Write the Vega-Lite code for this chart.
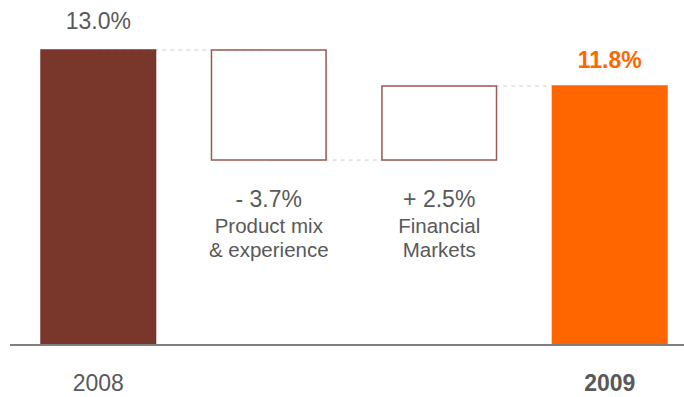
{
  "$schema": "https://vega.github.io/schema/vega-lite/v6.json",
  "width": 674,
  "height": 345,
  "autosize": {"type": "none"},
  "padding": {"left": 10, "top": 0, "right": 0, "bottom": 52},
  "background": "white",
  "config": {"view": {"stroke": null}, "font": "Liberation Sans"},
  "datasets": {
    "bars": [
      {"cat": "2008", "start": 0, "end": 13.0, "value": "13.0%", "desc": ""},
      {"cat": "Product mix", "start": 8.15, "end": 13.0, "value": "- 3.7%", "desc": "Product mix\n& experience"},
      {"cat": "Financial Markets", "start": 8.15, "end": 11.41, "value": "+ 2.5%", "desc": "Financial\nMarkets"},
      {"cat": "2009", "start": 0, "end": 11.41, "value": "11.8%", "desc": ""}
    ],
    "links": [
      {"from": "2008", "to": "Product mix", "level": 13.0},
      {"from": "Product mix", "to": "Financial Markets", "level": 8.15},
      {"from": "Financial Markets", "to": "2009", "level": 11.41}
    ]
  },
  "encoding": {
    "x": {
      "field": "cat", "type": "nominal", "sort": null,
      "scale": {"domain": ["2008", "Product mix", "Financial Markets", "2009"], "range": [31, 657], "paddingInner": 0.328, "paddingOuter": 0},
      "axis": {
        "title": null, "domain": false, "ticks": false, "labelAngle": 0,
        "labelPadding": 45.5, "labelBaseline": "alphabetic",
        "labelFontSize": 23, "labelColor": "#595959",
        "labelFont": "Liberation Sans",
        "labelFontWeight": {"condition": {"test": "datum.value === '2009'", "value": "bold"}, "value": "normal"},
        "labelExpr": "(datum.value === '2008' || datum.value === '2009') ? datum.value : ''"
      }
    }
  },
  "layer": [
    {
      "data": {"name": "links"},
      "mark": {"type": "rule", "color": "#cfcfcf", "strokeWidth": 1, "strokeDash": [4, 4]},
      "encoding": {
        "x": {"field": "from", "type": "nominal", "sort": null},
        "x2": {"field": "to"},
        "y": {"field": "level", "type": "quantitative", "scale": {"domain": [0, 15.2034], "nice": false, "zero": false}, "axis": null}
      }
    },
    {
      "data": {"name": "bars"},
      "mark": {"type": "bar", "strokeWidth": 1.5},
      "encoding": {
        "y": {"field": "start", "type": "quantitative", "scale": {"domain": [0, 15.2034], "nice": false}, "axis": null},
        "y2": {"field": "end"},
        "fill": {"field": "cat", "type": "nominal", "legend": null, "scale": {"domain": ["2008", "Product mix", "Financial Markets", "2009"], "range": ["#79372C", "#ffffff", "#ffffff", "#FF6600"]}},
        "stroke": {"field": "cat", "type": "nominal", "legend": null, "scale": {"domain": ["2008", "Product mix", "Financial Markets", "2009"], "range": ["#79372C", "#9A5850", "#9A5850", "#FF6600"]}}
      }
    },
    {
      "data": {"name": "links"},
      "mark": {"type": "rule", "color": "#7f7f7f", "strokeWidth": 2},
      "encoding": {"y": {"datum": 0, "type": "quantitative"}, "x": null}
    },
    {
      "data": {"name": "bars"},
      "transform": [{"filter": "datum.cat === '2008'"}],
      "mark": {"type": "text", "fontSize": 23, "color": "#595959", "baseline": "alphabetic", "dy": -21},
      "encoding": {"y": {"field": "end", "type": "quantitative"}, "text": {"field": "value"}}
    },
    {
      "data": {"name": "bars"},
      "transform": [{"filter": "datum.cat === '2009'"}],
      "mark": {"type": "text", "fontSize": 23, "fontWeight": "bold", "color": "#FF6600", "baseline": "alphabetic", "dy": -18},
      "encoding": {"y": {"field": "end", "type": "quantitative"}, "text": {"field": "value"}}
    },
    {
      "data": {"name": "bars"},
      "transform": [{"filter": "datum.desc !== ''"}],
      "mark": {"type": "text", "fontSize": 23, "color": "#595959", "baseline": "alphabetic", "dy": 47},
      "encoding": {"y": {"field": "start", "type": "quantitative"}, "text": {"field": "value"}}
    },
    {
      "data": {"name": "bars"},
      "transform": [{"filter": "datum.desc !== ''"}],
      "mark": {"type": "text", "fontSize": 20.5, "color": "#595959", "baseline": "alphabetic", "dy": 73, "lineBreak": "\n", "lineHeight": 24},
      "encoding": {"y": {"field": "start", "type": "quantitative"}, "text": {"field": "desc"}}
    }
  ]
}
